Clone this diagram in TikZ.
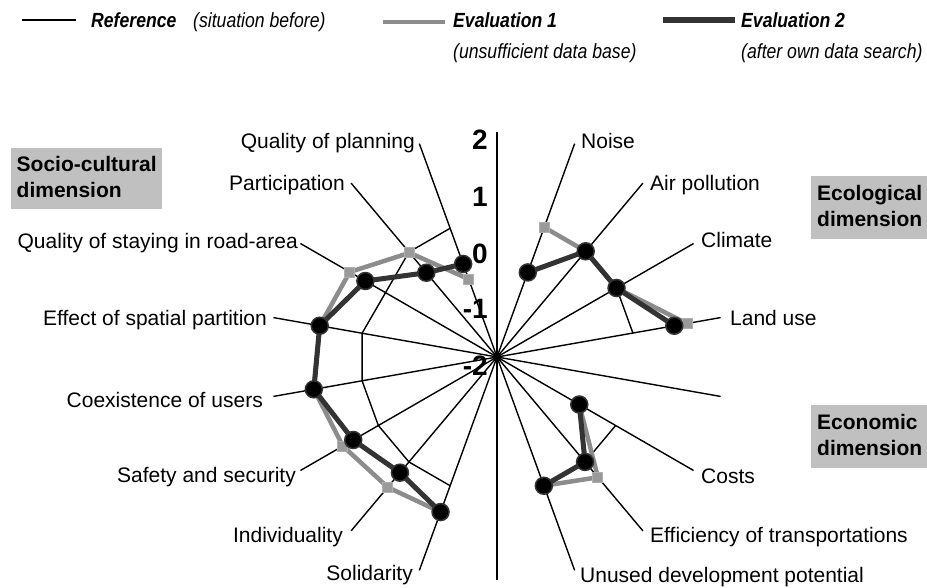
\documentclass[tikz,border=0pt]{standalone}
\usepackage{fontspec}
\setmainfont{Liberation Sans}
\newfontfamily\legfont[FakeStretch=0.86]{Liberation Sans}
\definecolor{evtwo}{HTML}{333333}
\definecolor{evone}{HTML}{8C8C8C}
\definecolor{sqfill}{HTML}{9A9A9A}
\definecolor{boxgrey}{HTML}{C0C0C0}
\tikzset{
 spoke/.style={line width=1.4pt, black},
 refline/.style={line width=1.4pt, black, line join=round},
 oneline/.style={line width=4.5pt, evone, line join=round},
 twoline/.style={line width=5pt, evtwo, line join=round},
 sqmark/.style={rectangle, minimum size=10pt, inner sep=0pt, fill=sqfill, draw=evone!70, line width=1pt},
 dotmark/.style={circle, minimum size=17pt, inner sep=0pt, fill=black, draw=evtwo, line width=1.5pt},
 lbl/.style={font=\fontsize{21}{25}\selectfont, inner sep=0pt},
 scalelbl/.style={font=\fontsize{28}{32}\selectfont\bfseries, inner sep=0pt, anchor=east},
 dimbox/.style={fill=boxgrey, font=\fontsize{21}{26}\selectfont\bfseries, align=left, anchor=north west, inner ysep=0pt},
 legtxt/.style={font=\legfont\fontsize{20.5}{24}\selectfont\itshape, inner sep=0pt, anchor=base west},
 legbold/.style={font=\legfont\fontsize{20.5}{24}\selectfont\bfseries\itshape, inner sep=0pt, anchor=base west},
}
\begin{document}
\begin{tikzpicture}[x=1pt,y=-1pt]
\useasboundingbox (0,0) rectangle (927,587);
% ---------- chart geometry ----------
\begin{scope}[shift={(497,357)}, yscale=-1]
 \coordinate (O) at (0,0);
 \foreach \a/\n in {110/pl,130/pa,150/st,170/ef,190/co,210/sa,230/in,250/so,70/no,50/ai,30/cl,10/la,-10/sep,-30/cs,-50/et,-70/un}
   {\coordinate (e-\n) at (\a:227);}
 \coordinate (top) at (90:225);
 \coordinate (bot) at (270:223);
 % evaluation 1
 \foreach \a/\n/\r in {110/pl/83,130/pa/136,150/st/170,170/ef/180,190/co/186,210/sa/178,230/in/170,250/so/165,70/no/138,50/ai/138,30/cl/138,10/la/193,-30/cs/95,-50/et/157,-70/un/137}
   {\coordinate (a-\n) at (\a:\r);}
 % evaluation 2
 \foreach \a/\n/\r in {110/pl/99,130/pa/110,150/st/152,170/ef/180,190/co/186,210/sa/166,230/in/151,250/so/165,70/no/90,50/ai/138,30/cl/138,10/la/180,-30/cs/95,-50/et/137,-70/un/137}
   {\coordinate (b-\n) at (\a:\r);}
 % reference
 \foreach \a/\n/\r in {110/pl/137,130/pa/137,150/st/128.7,170/ef/137,190/co/137,210/sa/137,230/in/137,250/so/137,70/no/138,50/ai/138,30/cl/138,10/la/138,-30/cs/137,-50/et/137,-70/un/137}
   {\coordinate (r-\n) at (\a:\r);}
\end{scope}
% spokes
\foreach \n in {pl,pa,st,ef,co,sa,in,so,no,ai,cl,la,sep,cs,et,un}
  {\draw[spoke] (O) -- (e-\n);}
\draw[spoke] (top) -- (bot);
% reference
\draw[refline] (r-pl) -- (r-pa) -- (r-st) -- (r-ef) -- (r-co) -- (r-sa) -- (r-in) -- (r-so);
\draw[refline] (r-no) -- (r-ai) -- (r-cl) -- (r-la);
\draw[refline] (r-cs) -- (r-et) -- (r-un);
% evaluation 1
\draw[oneline] (a-pl) -- (a-pa) -- (a-st) -- (a-ef) -- (a-co) -- (a-sa) -- (a-in) -- (a-so);
\draw[oneline] (a-no) -- (a-ai) -- (a-cl) -- (a-la);
\draw[oneline] (a-cs) -- (a-et) -- (a-un);
% evaluation 2
\draw[twoline] (b-pl) -- (b-pa) -- (b-st) -- (b-ef) -- (b-co) -- (b-sa) -- (b-in) -- (b-so);
\draw[twoline] (b-no) -- (b-ai) -- (b-cl) -- (b-la);
\draw[twoline] (b-cs) -- (b-et) -- (b-un);
% markers
\foreach \n in {pl,pa,st,ef,co,sa,in,so,no,ai,cl,la,cs,et,un}
  {\node[sqmark] (sq-\n) at (a-\n) {};}
\foreach \n in {pl,pa,st,ef,co,sa,in,so,no,ai,cl,la,cs,et,un}
  {\node[dotmark] (dot-\n) at (b-\n) {};}
% scale labels
\node[scalelbl] (s2) at (488,140) {2};
\node[scalelbl] (s1) at (488,197) {1};
\node[scalelbl] (s0) at (488,254) {0};
\node[scalelbl] (sm1) at (488,309) {-1};
\node[scalelbl] (sm2) at (488,366) {-2};
% axis labels
\node[lbl, anchor=base east] (l-pl) at (415,148) {Quality of planning};
\node[lbl, anchor=base east] (l-pa) at (345,190) {Participation};
\node[lbl, anchor=base east] (l-st) at (298,248) {Quality of staying in road-area};
\node[lbl, anchor=base east] (l-ef) at (267,325) {Effect of spatial partition};
\node[lbl, anchor=base east] (l-co) at (263,407) {Coexistence of users};
\node[lbl, anchor=base east] (l-sa) at (296,482) {Safety and security};
\node[lbl, anchor=base east] (l-in) at (343,542) {Individuality};
\node[lbl, anchor=base east] (l-so) at (413,580) {Solidarity};
\node[lbl, anchor=base west] (l-no) at (581,148) {Noise};
\node[lbl, anchor=base west] (l-ai) at (650,190) {Air pollution};
\node[lbl, anchor=base west] (l-cl) at (701,247) {Climate};
\node[lbl, anchor=base west] (l-la) at (730,325) {Land use};
\node[lbl, anchor=base west] (l-cs) at (701,483) {Costs};
\node[lbl, anchor=base west] (l-et) at (650,542) {Efficiency of transportations};
\node[lbl, anchor=base west] (l-un) at (580,582) {Unused development potential};
% dimension boxes
\node[dimbox, minimum width=151pt, minimum height=61pt, inner xsep=5pt] (soc) at (11,148) {Socio-cultural\\dimension\vphantom{g}};
\node[dimbox, minimum width=116pt, minimum height=63pt, inner xsep=6pt] (eco) at (811,176) {Ecological\\dimension\vphantom{g}};
\node[dimbox, minimum width=116pt, minimum height=63pt, inner xsep=6pt] (ecn) at (811,405) {Economic\\dimension\vphantom{g}};
% legend
\coordinate (lg0a) at (22,20); \coordinate (lg0b) at (76,20);
\draw[line width=1.6pt] (lg0a) -- (lg0b);
\node[legbold] (lg0t) at (91,27) {Reference};
\node[legtxt] (lg0s) at (193,27) {(situation before)};
\coordinate (lg1a) at (383,22); \coordinate (lg1b) at (445,22);
\draw[oneline] (lg1a) -- (lg1b);
\node[legbold] (lg1t) at (453,27) {Evaluation 1};
\node[legtxt] (lg1s) at (453,58) {(unsufficient data base)};
\coordinate (lg2a) at (663,20); \coordinate (lg2b) at (735,20);
\draw[twoline, line width=6pt] (lg2a) -- (lg2b);
\node[legbold] (lg2t) at (741,27) {Evaluation 2};
\node[legtxt] (lg2s) at (741,58) {(after own data search)};
\end{tikzpicture}
\end{document}
